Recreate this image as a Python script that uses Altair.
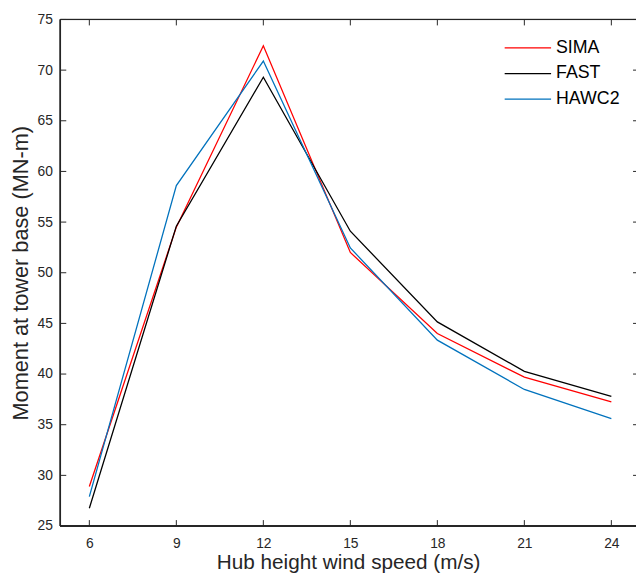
import altair as alt
import pandas as pd

speeds = [6, 9, 12, 15, 18, 21, 24]
sima = [28.9, 54.5, 72.4, 52.0, 44.0, 39.7, 37.25]
fast = [26.75, 54.6, 69.3, 54.1, 45.15, 40.27, 37.8]
hawc2 = [27.9, 58.6, 70.9, 52.45, 43.35, 38.48, 35.6]
series = ["SIMA", "FAST", "HAWC2"]
colors = ["#ff0000", "#000000", "#0072bd"]
x_ticks = [6, 9, 12, 15, 18, 21, 24]
y_ticks = [25, 30, 35, 40, 45, 50, 55, 60, 65, 70, 75]

rows = []
for name, vals in zip(series, [sima, fast, hawc2]):
    for s, v in zip(speeds, vals):
        rows.append({"speed": s, "moment": v, "series": name})
df = pd.DataFrame(rows)

W, H = 583, 513
TL = 6
FONT = "Liberation Sans"
TXT = "#262626"

# right side of the original frame is cropped just before x=25
xs = alt.Scale(domain=[5, 24.85], nice=False)
ys = alt.Scale(domain=[25, 75], nice=False)

x_axis = alt.Axis(values=x_ticks, ticks=False, grid=False, domain=False,
                  labelFontSize=14, labelColor=TXT, labelPadding=11, labelFont=FONT,
                  titleFontSize=21, titleFontWeight="normal", titleColor=TXT,
                  titleFont=FONT, titleY=43, titleBaseline="alphabetic")
y_axis = alt.Axis(values=y_ticks, ticks=False, grid=False, domain=False,
                  labelFontSize=14, labelColor=TXT, labelPadding=8, labelFont=FONT,
                  titleFontSize=22, titleFontWeight="normal", titleColor=TXT,
                  titleFont=FONT, titlePadding=5)
XT = "Hub height wind speed (m/s)"
YT = "Moment at tower base (MN-m)"

lines = alt.Chart(df).mark_line(strokeWidth=1.3).encode(
    x=alt.X("speed:Q", scale=xs, title=XT, axis=x_axis),
    y=alt.Y("moment:Q", scale=ys, title=YT, axis=y_axis),
    color=alt.Color("series:N", scale=alt.Scale(domain=series, range=colors),
                    sort=series,
                    legend=alt.Legend(title=None, orient="none", legendX=449, legendY=17,
                                      symbolType="stroke", symbolSize=2209,
                                      symbolStrokeWidth=1.3, clipHeight=23.5, rowPadding=2,
                                      labelFontSize=18, labelFont=FONT, labelColor="#000000",
                                      labelOffset=4, padding=0)),
)

xt = pd.DataFrame({"speed": x_ticks})
yt = pd.DataFrame({"moment": y_ticks})

xb = alt.Chart(xt).mark_rule(color=TXT, strokeWidth=1).encode(
    x=alt.X("speed:Q", scale=xs, title=XT, axis=x_axis), y=alt.value(H), y2=alt.value(H - TL))
xtp = alt.Chart(xt).mark_rule(color=TXT, strokeWidth=1).encode(
    x=alt.X("speed:Q", scale=xs, title=XT, axis=x_axis), y=alt.value(0), y2=alt.value(TL))
yl = alt.Chart(yt).mark_rule(color=TXT, strokeWidth=1).encode(
    y=alt.Y("moment:Q", scale=ys, title=YT, axis=y_axis), x=alt.value(0), x2=alt.value(TL))
yr = alt.Chart(yt).mark_rule(color=TXT, strokeWidth=1).encode(
    y=alt.Y("moment:Q", scale=ys, title=YT, axis=y_axis), x=alt.value(W + 3), x2=alt.value(W - 3))

# frame: left, top, bottom (right edge is cropped in the original)
left_b = alt.Chart(xt).mark_rule(color=TXT, strokeWidth=1).encode(
    x=alt.value(0), y=alt.value(0), y2=alt.value(H))
top_b = alt.Chart(xt).mark_rule(color=TXT, strokeWidth=1).encode(
    x=alt.value(0), x2=alt.value(W), y=alt.value(0))
bot_b = alt.Chart(xt).mark_rule(color=TXT, strokeWidth=1).encode(
    x=alt.value(0), x2=alt.value(W), y=alt.value(H))

chart = alt.layer(lines, xb, xtp, yl, yr, left_b, top_b, bot_b).properties(
    width=W, height=H,
    autosize=alt.AutoSizeParams(type="none"),
    padding={"left": 53, "top": 8, "right": 0, "bottom": 47},
).configure_view(stroke=None).configure(background="white")

chart.save("out.html", embed_options={"renderer": "svg", "actions": False})
